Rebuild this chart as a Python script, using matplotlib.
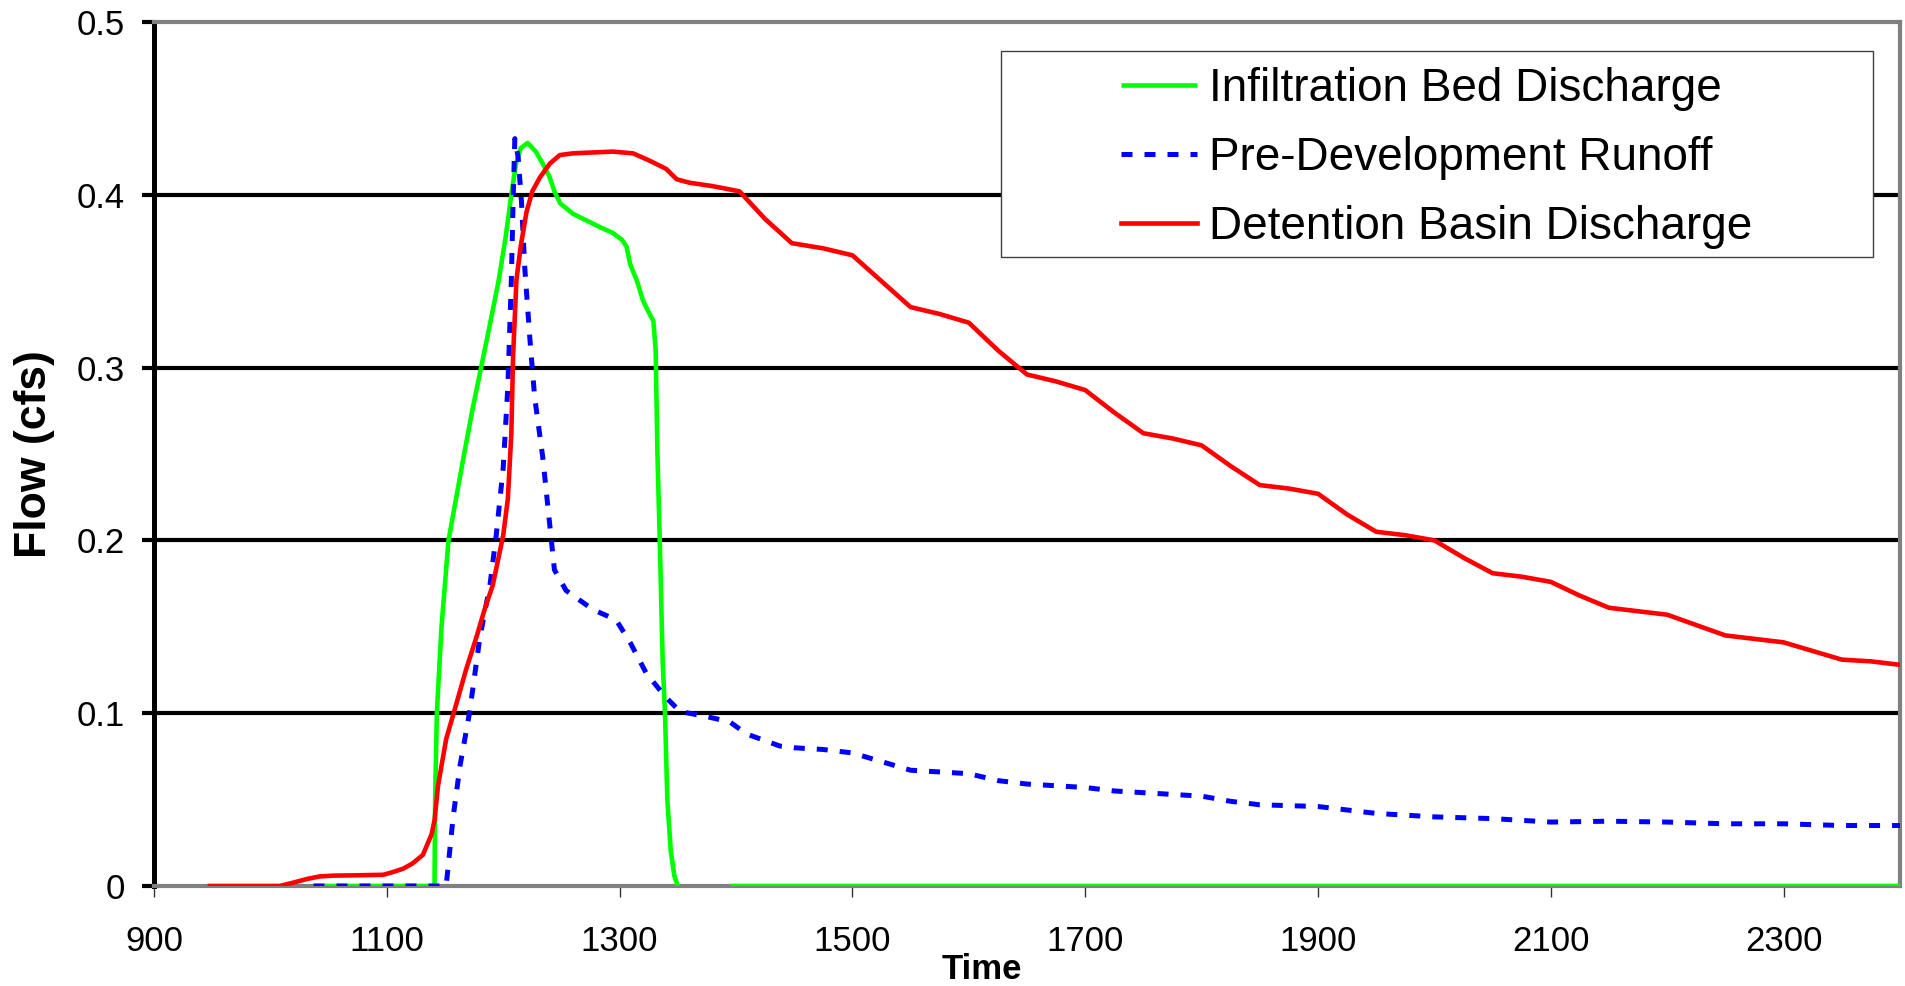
"""Infiltration bed vs detention basin discharge hydrograph."""

import matplotlib

matplotlib.use("Agg")
import matplotlib.pyplot as plt
from matplotlib.patches import Rectangle
import numpy as np

plt.rcParams["font.family"] = ["Liberation Sans", "DejaVu Sans"]

nan = np.nan

# Infiltration Bed Discharge (gap between 1350 and 1395 is blank in the source)
bed_time = [1037, 1141, 1141.5, 1143, 1147, 1153, 1160, 1167, 1174, 1181, 1188, 1196,
            1202, 1207, 1211, 1215, 1221, 1228, 1234, 1240, 1244, 1249, 1260, 1272,
            1284, 1294, 1302, 1306, 1309, 1315, 1320, 1325, 1329, 1331, 1332.5, 1334.5,
            1337, 1339, 1341, 1344, 1347, 1350, nan, 1395, 2400]
bed_flow = [0, 0, 0.05, 0.1, 0.15, 0.2, 0.226, 0.252, 0.277, 0.3, 0.323, 0.35,
            0.375, 0.4, 0.418, 0.427, 0.43, 0.425, 0.418, 0.41, 0.402, 0.395, 0.389, 0.385,
            0.381, 0.378, 0.374, 0.37, 0.36, 0.35, 0.339, 0.332, 0.327, 0.31, 0.25, 0.2,
            0.13, 0.1, 0.05, 0.02, 0.006, 0, nan, 0, 0]

# Pre-Development Runoff
pre_time = [1037, 1151, 1154, 1157, 1163, 1171, 1180, 1188.6, 1194, 1200, 1204, 1207,
            1208.5, 1210, 1212.8, 1215.7, 1218.6, 1223, 1227, 1234, 1240, 1244, 1254,
            1277, 1297, 1309, 1323, 1340, 1352, 1375, 1394.6, 1409, 1437.6, 1450, 1475,
            1500, 1525, 1550, 1600, 1625, 1650, 1700, 1725, 1750, 1800, 1825, 1850, 1900,
            1925, 1950, 2000, 2050, 2100, 2150, 2200, 2250, 2300, 2350, 2400]
pre_flow = [0, 0, 0.02, 0.04, 0.07, 0.1, 0.144, 0.174, 0.203, 0.242, 0.289, 0.351,
            0.396, 0.4325, 0.422, 0.396, 0.357, 0.316, 0.283, 0.248, 0.209, 0.183, 0.171,
            0.16, 0.154, 0.141, 0.123, 0.109, 0.101, 0.098, 0.095, 0.088, 0.081, 0.08, 0.079,
            0.077, 0.072, 0.067, 0.065, 0.061, 0.059, 0.057, 0.055, 0.054, 0.052, 0.049, 0.047, 0.046,
            0.044, 0.042, 0.04, 0.039, 0.037, 0.0375, 0.037, 0.036, 0.036, 0.035, 0.035]

# Detention Basin Discharge
basin_time = [948, 1008, 1020, 1031, 1042, 1054, 1075, 1097, 1105, 1114, 1122, 1131,
              1138.5, 1141, 1144, 1151, 1160, 1168, 1177, 1184, 1191, 1196, 1200, 1204,
              1207, 1208.5, 1211.4, 1215, 1220, 1225, 1231.5, 1240, 1248.6, 1260, 1294,
              1311.5, 1325, 1340, 1349, 1360, 1380, 1403, 1425, 1448, 1475, 1500, 1525,
              1550, 1575, 1600, 1625, 1650, 1675, 1700, 1725, 1750, 1775, 1800, 1825, 1850,
              1875, 1900, 1925, 1950, 1975, 2000, 2025, 2050, 2075, 2100, 2125, 2150, 2175,
              2200, 2225, 2250, 2275, 2300, 2325, 2350, 2375, 2400]
basin_flow = [0, 0, 0.002, 0.004, 0.0055, 0.006, 0.0062, 0.0065, 0.008, 0.01, 0.013, 0.018,
              0.03, 0.038, 0.058, 0.085, 0.106, 0.125, 0.144, 0.16, 0.174, 0.19, 0.203, 0.224,
              0.262, 0.307, 0.351, 0.37, 0.39, 0.402, 0.41, 0.418, 0.423, 0.424, 0.425,
              0.424, 0.42, 0.415, 0.409, 0.407, 0.405, 0.402, 0.386, 0.372, 0.369, 0.365, 0.35,
              0.335, 0.331, 0.326, 0.31, 0.296, 0.292, 0.287, 0.274, 0.262, 0.259, 0.255, 0.243, 0.232,
              0.23, 0.227, 0.215, 0.205, 0.203, 0.2, 0.19, 0.181, 0.179, 0.176, 0.168, 0.161, 0.159,
              0.157, 0.151, 0.145, 0.143, 0.141, 0.136, 0.131, 0.13, 0.128]

x_ticks = [900, 1100, 1300, 1500, 1700, 1900, 2100, 2300]
y_ticks = [0, 0.1, 0.2, 0.3, 0.4, 0.5]
y_tick_labels = ["0", "0.1", "0.2", "0.3", "0.4", "0.5"]


def main() -> None:
    fig = plt.figure(figsize=(19.05, 9.86), dpi=100)
    ax = fig.add_axes([154 / 1905, 100 / 986, 1746 / 1905, 864 / 986])

    for y in y_ticks[1:-1]:
        ax.axhline(y, color="black", lw=3, zorder=1)

    ax.plot(bed_time, bed_flow, color="#00ff00", lw=3.3, zorder=3,
            solid_capstyle="butt", label="Infiltration Bed Discharge")
    ax.plot(pre_time, pre_flow, color="#0000ff", lw=3.6, zorder=3,
            linestyle=(0, (2.2, 2.4)), label="Pre-Development Runoff")
    ax.plot(basin_time, basin_flow, color="#ff0000", lw=3.3, zorder=3,
            label="Detention Basin Discharge")

    ax.set_xlim(900, 2400)
    ax.set_ylim(0, 0.5)
    ax.set_xticks(x_ticks)
    ax.set_yticks(y_ticks, labels=y_tick_labels)

    for side in ("top", "right", "bottom"):
        ax.spines[side].set_color("#808080")
        ax.spines[side].set_linewidth(3)
    ax.spines["left"].set_color("black")
    ax.spines["left"].set_linewidth(3.6)

    ax.tick_params(axis="x", direction="out", length=8, width=1, color="#333333",
                   labelsize=25, pad=20)
    ax.tick_params(axis="y", direction="out", length=9, width=3, color="black",
                   labelsize=25, pad=12)

    ax.set_ylabel("Flow (cfs)", fontsize=32, fontweight="bold", va="center")
    ax.yaxis.set_label_coords(-0.0682, 0.5)
    ax.set_xlabel("Time", fontsize=25, fontweight="bold", va="baseline")
    ax.xaxis.set_label_coords(0.4742, -0.1076)

    box_x0, box_x1, box_y0, box_y1 = 0.4851, 0.9845, 0.7285, 0.9664
    box = Rectangle((box_x0, box_y0), box_x1 - box_x0, box_y1 - box_y0,
                    transform=ax.transAxes, facecolor="white", edgecolor="#404040",
                    lw=1, zorder=5)
    ax.add_patch(box)
    leg = ax.legend(loc="center",
                    bbox_to_anchor=((box_x0 + box_x1) / 2, (box_y0 + box_y1) / 2 - 0.005),
                    frameon=False, fontsize=33, handlelength=1.66, handletextpad=0.26,
                    labelspacing=0.54, borderpad=0)
    leg.set_zorder(6)

    fig.savefig("out.png", dpi=100, facecolor="white")
    plt.close(fig)


if __name__ == "__main__":
    main()
